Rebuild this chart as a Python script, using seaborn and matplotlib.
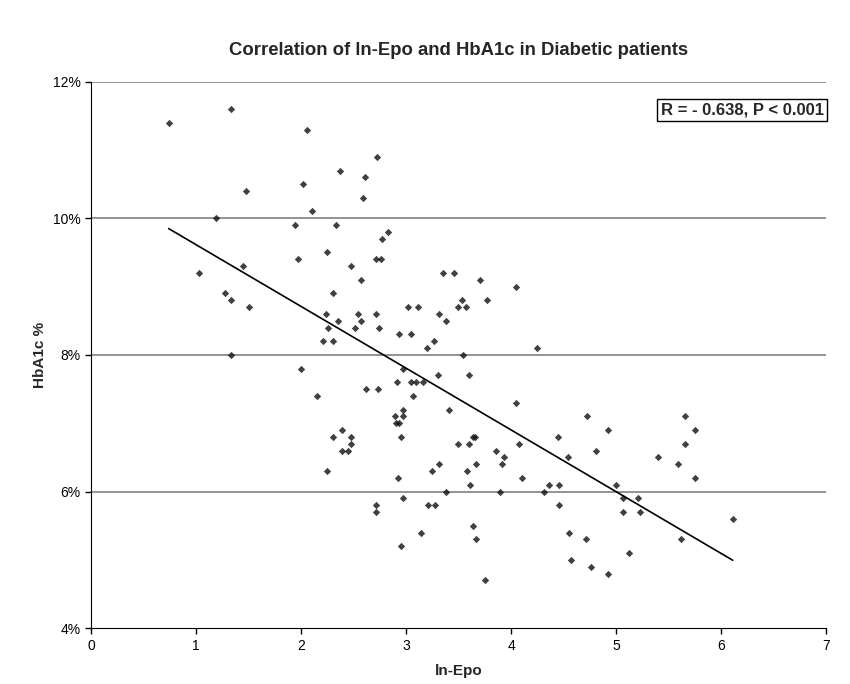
import numpy as np
import pandas as pd
import matplotlib
matplotlib.use("Agg")
import matplotlib.pyplot as plt
from matplotlib.ticker import FuncFormatter
import seaborn as sns

# ln-Epo values (x) and HbA1c % (y)
ln_epo = [0.74, 1.33, 2.06, 1.48, 2.02, 2.10, 1.19, 1.94, 2.33, 2.25,
          1.97, 1.45, 1.03, 1.28, 2.30, 1.33, 1.50, 2.24, 2.35, 2.26,
          2.21, 2.30, 1.33, 2.37, 2.72, 2.61, 2.59, 2.83, 2.77, 2.71,
          2.76, 2.48, 2.57, 3.35, 3.46, 3.70, 4.05, 3.02, 3.11, 3.53,
          3.49, 3.57, 3.77, 2.54, 2.71, 3.31, 2.57, 3.38, 2.51, 2.74,
          2.93, 3.05, 3.20, 3.27, 4.25, 3.54, 2.97, 3.30, 3.60, 2.91,
          3.05, 3.09, 3.16, 2.62, 2.73, 3.07, 4.05, 2.97, 3.41, 2.89,
          2.97, 2.90, 2.93, 2.39, 2.30, 2.48, 2.95, 3.64, 3.66, 4.45,
          2.48, 3.49, 3.60, 4.08, 2.39, 2.45, 3.86, 3.93, 4.54, 2.25,
          3.31, 3.67, 3.91, 3.25, 3.58, 2.92, 4.10, 3.61, 4.36, 4.46,
          3.38, 3.89, 4.31, 2.97, 2.71, 2.71, 3.21, 3.28, 4.46, 3.64,
          3.14, 4.55, 3.67, 2.95, 4.57, 3.75, 2.00, 2.15, 4.72, 5.66,
          4.92, 5.75, 4.81, 5.66, 5.40, 5.59, 5.75, 5.00, 5.07, 5.21,
          5.07, 5.23, 6.11, 4.71, 5.62, 5.12, 4.76, 4.92]
hba1c = [11.4, 11.6, 11.3, 10.4, 10.5, 10.1, 10.0, 9.9, 9.9, 9.5,
         9.4, 9.3, 9.2, 8.9, 8.9, 8.8, 8.7, 8.6, 8.5, 8.4,
         8.2, 8.2, 8.0, 10.7, 10.9, 10.6, 10.3, 9.8, 9.7, 9.4,
         9.4, 9.3, 9.1, 9.2, 9.2, 9.1, 9.0, 8.7, 8.7, 8.8,
         8.7, 8.7, 8.8, 8.6, 8.6, 8.6, 8.5, 8.5, 8.4, 8.4,
         8.3, 8.3, 8.1, 8.2, 8.1, 8.0, 7.8, 7.7, 7.7, 7.6,
         7.6, 7.6, 7.6, 7.5, 7.5, 7.4, 7.3, 7.2, 7.2, 7.1,
         7.1, 7.0, 7.0, 6.9, 6.8, 6.8, 6.8, 6.8, 6.8, 6.8,
         6.7, 6.7, 6.7, 6.7, 6.6, 6.6, 6.6, 6.5, 6.5, 6.3,
         6.4, 6.4, 6.4, 6.3, 6.3, 6.2, 6.2, 6.1, 6.1, 6.1,
         6.0, 6.0, 6.0, 5.9, 5.8, 5.7, 5.8, 5.8, 5.8, 5.5,
         5.4, 5.4, 5.3, 5.2, 5.0, 4.7, 7.8, 7.4, 7.1, 7.1,
         6.9, 6.9, 6.6, 6.7, 6.5, 6.4, 6.2, 6.1, 5.9, 5.9,
         5.7, 5.7, 5.6, 5.3, 5.3, 5.1, 4.9, 4.8]

y_ticks = [4, 6, 8, 10, 12]
x_ticks = [0, 1, 2, 3, 4, 5, 6, 7]
stats_label = "R = - 0.638, P < 0.001"

df = pd.DataFrame({"ln_epo": ln_epo, "hba1c": hba1c})

sns.set_style("white")
plt.rcParams["font.family"] = ["Liberation Sans", "DejaVu Sans"]

fig = plt.figure(figsize=(8.5, 6.84), dpi=100)
ax = fig.add_axes([0.107, 0.0814, 0.865, 0.7992])

sns.regplot(data=df, x="ln_epo", y="hba1c", ax=ax, ci=None, truncate=True,
            marker="D",
            scatter_kws={"s": 14, "color": "#111111", "linewidths": 0},
            line_kws={"color": "black", "linewidth": 1.2})

ax.set_xlim(0, 7)
ax.set_ylim(4, 12)
ax.set_xticks(x_ticks)
ax.set_yticks(y_ticks)
ax.yaxis.set_major_formatter(FuncFormatter(lambda v, p: f"{v:.0f}%"))
ax.tick_params(axis="both", direction="out", length=4, width=1, labelsize=10,
               colors="black", bottom=True, left=True)

# horizontal gridlines (Excel style), including the top one at 12%
for yv in y_ticks[1:]:
    ax.axhline(yv, color="#808080", linewidth=1.2, zorder=0)

ax.spines["right"].set_visible(False)
ax.spines["top"].set_visible(False)
ax.spines["left"].set_color("black")
ax.spines["bottom"].set_color("black")

ax.set_xlabel("ln-Epo", fontsize=11, fontweight="bold", labelpad=8)
ax.set_ylabel("HbA1c %", fontsize=11, fontweight="bold", labelpad=4)
ax.set_title("Correlation of ln-Epo and HbA1c in Diabetic patients",
             fontsize=13.3, fontweight="bold", pad=19)

ax.text(0.9965, 0.962, stats_label, transform=ax.transAxes, ha="right", va="top",
        fontsize=12, fontweight="bold",
        bbox={"boxstyle": "square,pad=0.22", "facecolor": "white",
              "edgecolor": "black", "linewidth": 1})

fig.savefig("out.png", dpi=100)
